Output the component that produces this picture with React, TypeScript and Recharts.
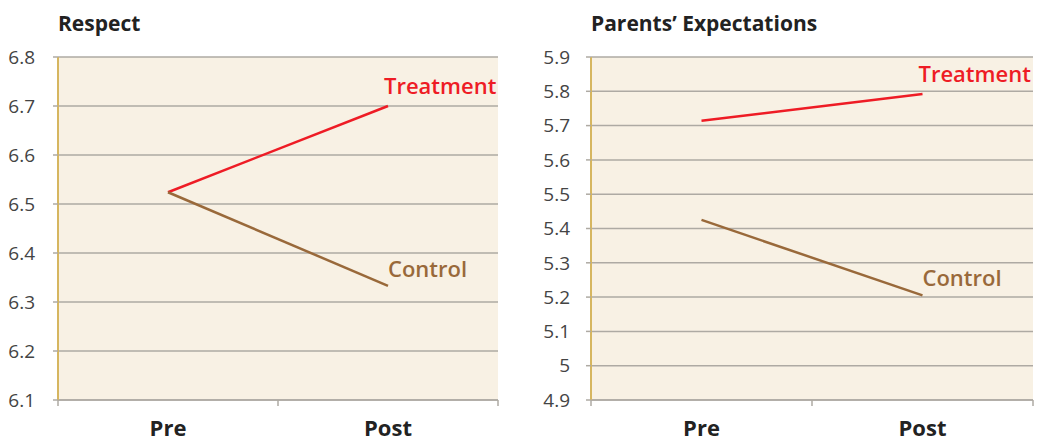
import React from 'react';
import { LineChart, Line, XAxis, YAxis, CartesianGrid, LabelList } from 'recharts';

const phases = ['Pre', 'Post'];
const seriesNames = ['Treatment', 'Control'];

const respectTreatment = [6.524, 6.7];
const respectControl = [6.524, 6.333];
const respectTicks = [6.1, 6.2, 6.3, 6.4, 6.5, 6.6, 6.7, 6.8];

const expectTreatment = [5.714, 5.792];
const expectControl = [5.425, 5.205];
const expectTicks = [4.9, 5, 5.1, 5.2, 5.3, 5.4, 5.5, 5.6, 5.7, 5.8, 5.9];

const FONT = '"Open Sans", sans-serif';
const RED = '#ee1c25';
const BROWN = '#99693a';
const GRID = '#aeaaa3';
const BG = '#f8f1e4';
const GOLD = '#d6b660';

function buildData(t: number[], c: number[]) {
  return phases.map((p, i) => ({ phase: p, treatment: t[i], control: c[i] }));
}

function makeXTick(bandWidth: number) {
  return (props: any) => {
    const { x, y, payload, index } = props;
    const left = x - bandWidth / 2;
    const right = x + bandWidth / 2;
    return (
      <g>
        <line x1={left} x2={left} y1={y} y2={y + 6} stroke={GRID} strokeWidth={1.5} />
        {index === phases.length - 1 && (
          <line x1={right} x2={right} y1={y} y2={y + 6} stroke={GRID} strokeWidth={1.5} />
        )}
        <text
          x={x}
          y={y + 27}
          textAnchor="middle"
          dominantBaseline="central"
          fill="#222"
          fontSize={22}
          fontWeight={700}
          fontFamily={FONT}
        >
          {payload.value}
        </text>
      </g>
    );
  };
}

function endLabel(name: string, color: string, dx: number, dy: number) {
  return (props: any) => {
    const { x, y, index } = props;
    if (index !== phases.length - 1) return null;
    return (
      <text
        x={x + dx}
        y={y + dy}
        dominantBaseline="central"
        fill={color}
        fontSize={22}
        fontWeight={600}
        fontFamily={FONT}
      >
        {name}
      </text>
    );
  };
}

interface PanelProps {
  title: string;
  left: number;
  width: number;
  yAxisWidth: number;
  rightMargin: number;
  tickMargin: number;
  data: any[];
  ticks: number[];
}

function Panel({ title, left, width, yAxisWidth, rightMargin, tickMargin, data, ticks }: PanelProps) {
  const plotWidth = width - yAxisWidth - rightMargin;
  const bandWidth = plotWidth / phases.length;
  return (
    <div style={{ position: 'absolute', left, top: 0, width, height: 439 }}>
      <div
        style={{
          position: 'absolute',
          left: yAxisWidth,
          top: 8,
          fontFamily: FONT,
          fontWeight: 700,
          fontSize: 21,
          color: '#222',
          whiteSpace: 'nowrap',
          lineHeight: '30px',
        }}
      >
        {title}
      </div>
      <LineChart
        width={width}
        height={439}
        data={data}
        margin={{ top: 57, right: rightMargin, bottom: 0, left: 0 }}
        style={{ overflow: 'visible' }}
      >
        <CartesianGrid vertical={false} stroke={GRID} strokeWidth={1.5} fill={BG} fillOpacity={1} />
        <XAxis
          dataKey="phase"
          scale="band"
          height={39}
          tickLine={false}
          tickSize={0}
          tickMargin={0}
          axisLine={{ stroke: GRID, strokeWidth: 1.5 }}
          tick={makeXTick(bandWidth)}
          interval={0}
        />
        <YAxis
          width={yAxisWidth}
          domain={[ticks[0], ticks[ticks.length - 1]]}
          ticks={ticks}
          interval={0}
          tickSize={5}
          tickMargin={tickMargin}
          tickLine={{ stroke: GRID, strokeWidth: 1.5 }}
          axisLine={{ stroke: GOLD, strokeWidth: 2 }}
          tick={{ fill: '#444', fontSize: 19, fontFamily: FONT }}
        />
        <Line
          dataKey="treatment"
          stroke={RED}
          strokeWidth={2.5}
          dot={false}
          isAnimationActive={false}
        >
          <LabelList content={endLabel(seriesNames[0], RED, -4, -21)} />
        </Line>
        <Line
          dataKey="control"
          stroke={BROWN}
          strokeWidth={2.5}
          dot={false}
          isAnimationActive={false}
        >
          <LabelList content={endLabel(seriesNames[1], BROWN, 0, -18)} />
        </Line>
      </LineChart>
    </div>
  );
}

export default function App() {
  return (
    <div style={{ position: 'absolute', left: 0, top: 0, width: 1042, height: 439, background: '#fff' }}>
      <Panel
        title="Respect"
        left={0}
        width={520}
        yAxisWidth={58}
        rightMargin={22}
        tickMargin={18}
        data={buildData(respectTreatment, respectControl)}
        ticks={respectTicks}
      />
      <Panel
        title="Parents’ Expectations"
        left={520}
        width={522}
        yAxisWidth={71}
        rightMargin={9}
        tickMargin={16}
        data={buildData(expectTreatment, expectControl)}
        ticks={expectTicks}
      />
    </div>
  );
}
